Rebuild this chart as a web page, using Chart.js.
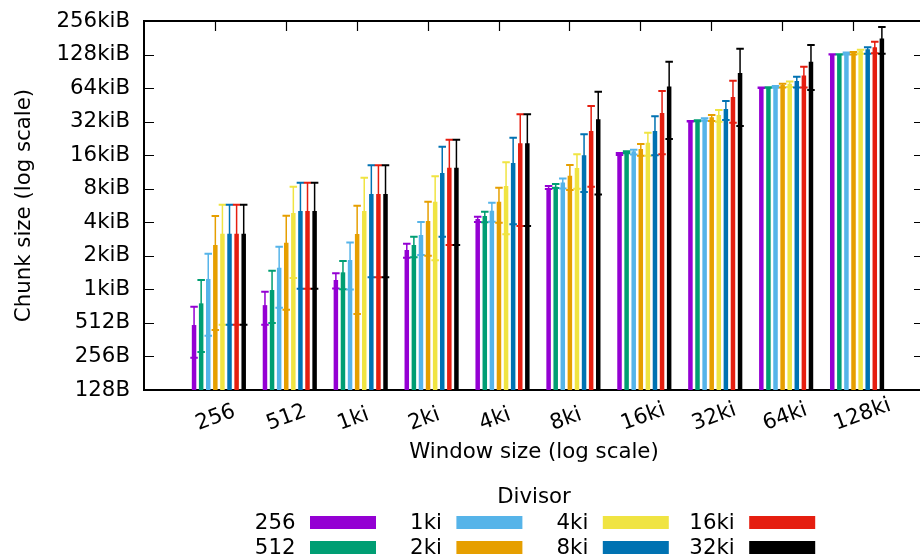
<!DOCTYPE html>
<html><head><meta charset="utf-8">
<script src="https://cdn.jsdelivr.net/npm/chart.js@4.4.1/dist/chart.umd.min.js"></script>
<style>
html,body{margin:0;padding:0;background:#fff;overflow:hidden;}
#wrap{position:absolute;left:0;top:0;width:930px;height:558px;}
</style></head><body>
<div id="wrap"><canvas id="c"></canvas></div>
<script>
// ---- data ----
const windowSizes = ['256','512','1ki','2ki','4ki','8ki','16ki','32ki','64ki','128ki'];
const divisors = ['256','512','1ki','2ki','4ki','8ki','16ki','32ki'];
const yTickValues = [128,256,512,1024,2048,4096,8192,16384,32768,65536,131072,262144];
const yTickLabels = ['128B','256B','512B','1kiB','2kiB','4kiB','8kiB','16kiB','32kiB','64kiB','128kiB','256kiB'];
const legendTitle = 'Divisor';

const meanDiv256 = [490, 739, 1243, 2304, 4380, 8250, 16780, 32970, 66020, 131500];
const lowDiv256  = [249, 494, 1045, 1963, 4115, 8140, 16450, 32800, 65700, 131072];
const highDiv256 = [715, 975, 1426, 2628, 4595, 8660, 17100, 33150, 66300, 132000];

const meanDiv512 = [767, 1010, 1456, 2556, 4660, 8540, 17380, 33380, 66300, 131600];
const lowDiv512  = [281, 511, 1025, 1985, 4100, 8300, 17020, 33050, 65900, 131100];
const highDiv512 = [1243, 1505, 1839, 3040, 5095, 9020, 17740, 33750, 66700, 132200];

const meanDiv1ki = [1270, 1601, 1878, 3147, 5200, 9340, 17750, 34340, 67400, 134300];
const lowDiv1ki  = [393, 700, 1020, 2080, 4140, 8250, 16580, 33380, 66100, 131500];
const highDiv1ki = [2135, 2469, 2700, 4115, 6125, 10140, 18330, 35070, 68500, 136500];

const meanDiv2ki = [2556, 2683, 3215, 4210, 6250, 10730, 18570, 35800, 69700, 135800];
const lowDiv2ki  = [442, 671, 615, 2050, 4060, 7960, 16170, 33180, 66300, 131500];
const highDiv2ki = [4670, 4690, 5750, 6250, 8360, 13360, 20610, 37560, 71600, 138000];

const meanDiv4ki = [3235, 4960, 5166, 6250, 8660, 12560, 21190, 37560, 71600, 141500];
const lowDiv4ki  = [494, 1296, 120, 1870, 3190, 8190, 16170, 32700, 67000, 133000];
const highDiv4ki = [5870, 8540, 10300, 10580, 14140, 16730, 26100, 41650, 75200, 144500];

const meanDiv8ki = [3235, 5166, 7330, 11340, 13930, 16330, 26980, 42530, 75700, 146000];
const lowDiv8ki  = [494, 1038, 1314, 3040, 3930, 7640, 16400, 33860, 66300, 133000];
const highDiv8ki = [5870, 9290, 13300, 19480, 23490, 25190, 36570, 50150, 82800, 152100];

const meanDiv16ki = [3235, 5166, 7330, 12640, 20930, 26980, 39150, 54450, 84800, 152100];
const lowDiv16ki  = [494, 1038, 1314, 2556, 3790, 8540, 16690, 32030, 66300, 134300];
const highDiv16ki = [5870, 9290, 13300, 22540, 38100, 45220, 61570, 76330, 101900, 170700];

const meanDiv32ki = [3235, 5166, 7330, 12640, 20930, 34390, 67900, 89600, 112900, 182800];
const lowDiv32ki  = [494, 1038, 1314, 2556, 3790, 7280, 22880, 29950, 62900, 133000];
const highDiv32ki = [5870, 9290, 13300, 22540, 38100, 60730, 113000, 147600, 160000, 232000];

// ---- styles ----
const colors = ['#9400d3','#009e73','#56b4e9','#e69f00','#f0e442','#0072b2','#e51e10','#000000'];
const FONT = '"DejaVu Sans", sans-serif';
const FS = 21.3;
const GROUP_SHIFT = 0.056;

const seriesMeans = [meanDiv256, meanDiv512, meanDiv1ki, meanDiv2ki, meanDiv4ki, meanDiv8ki, meanDiv16ki, meanDiv32ki];
const seriesLows  = [lowDiv256, lowDiv512, lowDiv1ki, lowDiv2ki, lowDiv4ki, lowDiv8ki, lowDiv16ki, lowDiv32ki];
const seriesHighs = [highDiv256, highDiv512, highDiv1ki, highDiv2ki, highDiv4ki, highDiv8ki, highDiv16ki, highDiv32ki];

const datasets = divisors.map((d, k) => ({
  label: d,
  data: seriesMeans[k].map((v, i) => ({x: i + GROUP_SHIFT, y: v})),
  errLow: seriesLows[k],
  errHigh: seriesHighs[k],
  backgroundColor: colors[k],
  borderWidth: 0
}));

const frame = {
  id: 'frame',
  beforeDatasetsDraw(chart) {
    const ctx = chart.ctx, a = chart.chartArea, xs = chart.scales.x, ys = chart.scales.y;
    ctx.save();
    ctx.strokeStyle = '#000';
    ctx.lineWidth = 1.2;
    ctx.beginPath();
    yTickValues.forEach(v => {
      const p = Math.round(ys.getPixelForValue(v)) + 0.5;
      ctx.moveTo(a.left, p); ctx.lineTo(a.left + 10, p);
      ctx.moveTo(a.right, p); ctx.lineTo(a.right - 10, p);
    });
    windowSizes.forEach((w, i) => {
      const p = Math.round(xs.getPixelForValue(i)) + 0.5;
      ctx.moveTo(p, a.top); ctx.lineTo(p, a.top + 10);
      ctx.moveTo(p, a.bottom); ctx.lineTo(p, a.bottom - 10);
    });
    ctx.stroke();
    ctx.lineWidth = 2;
    ctx.strokeRect(a.left, a.top, a.right - a.left, a.bottom - a.top);
    ctx.fillStyle = '#000';
    ctx.font = FS + 'px ' + FONT;
    ctx.textAlign = 'left';
    ctx.textBaseline = 'alphabetic';
    windowSizes.forEach((w, i) => {
      const p = xs.getPixelForValue(i);
      ctx.save();
      ctx.translate(p - 16.5, a.bottom + 40);
      ctx.rotate(-20 * Math.PI / 180);
      ctx.fillText(w, 0, 0);
      ctx.restore();
    });
    ctx.restore();
  }
};

const errorBars = {
  id: 'errorBars',
  afterDatasetsDraw(chart) {
    const ctx = chart.ctx, ys = chart.scales.y, a = chart.chartArea;
    ctx.save();
    ctx.beginPath();
    ctx.rect(a.left, a.top - 2, a.right - a.left, a.bottom - a.top + 2);
    ctx.clip();
    chart.data.datasets.forEach((ds, di) => {
      const meta = chart.getDatasetMeta(di);
      meta.data.forEach((bar, i) => {
        const x = bar.x;
        const yl = ys.getPixelForValue(ds.errLow[i]);
        const yh = ys.getPixelForValue(ds.errHigh[i]);
        ctx.strokeStyle = ds.backgroundColor;
        ctx.lineWidth = 1.5;
        ctx.beginPath();
        ctx.moveTo(x, yl); ctx.lineTo(x, yh);
        ctx.stroke();
        ctx.lineWidth = 2;
        ctx.beginPath();
        ctx.moveTo(x - 3.75, yl); ctx.lineTo(x + 3.75, yl);
        ctx.moveTo(x - 3.75, yh); ctx.lineTo(x + 3.75, yh);
        ctx.stroke();
      });
    });
    ctx.restore();
  }
};

const gpLegend = {
  id: 'gpLegend',
  afterDraw(chart) {
    const ctx = chart.ctx;
    ctx.save();
    ctx.font = FS + 'px ' + FONT;
    ctx.fillStyle = '#000';
    ctx.textAlign = 'center';
    ctx.textBaseline = 'middle';
    ctx.fillText(legendTitle, 534, 497);
    ctx.textAlign = 'right';
    chart.data.datasets.forEach((ds, i) => {
      const c = Math.floor(i / 2), r = i % 2;
      const sx = 310 + c * 146.4, sy = 516 + r * 25;
      ctx.fillStyle = ds.backgroundColor;
      ctx.fillRect(sx, sy, 66, 13);
      ctx.fillStyle = '#000';
      ctx.fillText(ds.label, sx - 14.5, sy + 7);
    });
    ctx.restore();
  }
};

new Chart(document.getElementById('c'), {
  type: 'bar',
  data: { datasets },
  plugins: [frame, errorBars, gpLegend],
  options: {
    responsive: true,
    maintainAspectRatio: false,
    animation: false,
    events: [],
    categoryPercentage: 0.8,
    barPercentage: 0.635,
    layout: { padding: { top: 21, right: 6, left: 0, bottom: 0 } },
    plugins: { legend: { display: false }, tooltip: { enabled: false } },
    scales: {
      x: {
        type: 'linear', min: -1, max: 10, offset: false,
        grid: { display: false, drawTicks: false },
        border: { display: false },
        ticks: { display: false, stepSize: 1 },
        title: { display: true, text: 'Window size (log scale)', color: '#000',
                 font: { family: FONT, size: FS }, padding: { top: 0, bottom: 93.2 } },
        afterFit(s) { s.height = 168; s.paddingLeft = 0; s.paddingRight = 0; }
      },
      y: {
        type: 'logarithmic', min: 128, max: 262144,
        grid: { display: false, drawTicks: false },
        border: { display: false },
        afterBuildTicks(s) { s.ticks = yTickValues.map(v => ({ value: v })); },
        ticks: { autoSkip: false, padding: 14, color: '#000', font: { family: FONT, size: FS },
                 callback: (v) => yTickLabels[yTickValues.indexOf(v)] },
        title: { display: true, text: 'Chunk size (log scale)', color: '#000',
                 font: { family: FONT, size: FS }, padding: { top: 11.2, bottom: 0 } },
        afterFit(s) { s.width = 144; s.paddingTop = 0; s.paddingBottom = 0; }
      }
    }
  }
});
</script>
</body></html>
